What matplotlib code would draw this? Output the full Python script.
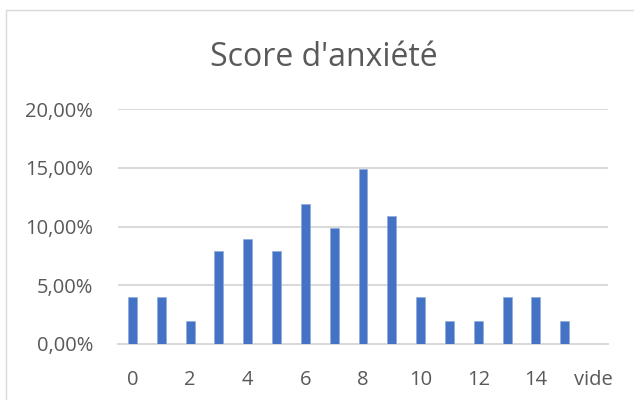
import matplotlib
matplotlib.use("Agg")
import matplotlib.pyplot as plt
from matplotlib.patches import Rectangle
from matplotlib.ticker import FuncFormatter

categories = [str(i) for i in range(16)] + ["vide"]
counts = [4, 4, 2, 8, 9, 8, 12, 10, 15, 11, 4, 2, 2, 4, 4, 2, 0]
total = 101
values = [c / total * 100 for c in counts]
yticks = [0, 5, 10, 15, 20]

plt.rcParams['font.family'] = ['Open Sans', 'DejaVu Sans']
txt = '#595959'
grid = '#D9D9D9'

fig = plt.figure(figsize=(6.34, 4.0), dpi=100)
fig.patches.append(Rectangle((6/634, -0.1), 1.1, 1 - 10/400 + 0.1, transform=fig.transFigure,
                             facecolor='white', edgecolor=grid, linewidth=1.0, zorder=-1))
ax = fig.add_axes([118/634, 1 - 344/400, 490/634, 235/400])
x = list(range(len(categories)))
ax.bar(x, values, width=0.31, color='#4472C4', edgecolor='#8FAADC', linewidth=0.5, zorder=3)
ax.set_xlim(-0.5, len(categories) - 0.5)
ax.set_ylim(0, 20)
ax.set_yticks(yticks)
ax.yaxis.set_major_formatter(FuncFormatter(lambda v, p: f"{v:.2f}".replace('.', ',') + '%'))
ax.set_xticks(x)
ax.set_xticklabels([c if (i % 2 == 0 or c == 'vide') else '' for i, c in enumerate(categories)])
ax.grid(axis='y', color=grid, linewidth=1.4, zorder=0)
for s in ['top', 'right', 'left']:
    ax.spines[s].set_visible(False)
ax.spines['bottom'].set_color(grid)
ax.spines['bottom'].set_linewidth(1.4)
ax.tick_params(axis='both', length=0, labelsize=14.5, labelcolor=txt)
ax.tick_params(axis='x', pad=19)
ax.tick_params(axis='y', pad=18)
ax.set_facecolor('none')
fig.text(324/634, 1 - 57/400, "Score d'anxiété", ha='center', va='center', fontsize=23, color=txt)
fig.savefig('out.png', dpi=100, facecolor='white')
